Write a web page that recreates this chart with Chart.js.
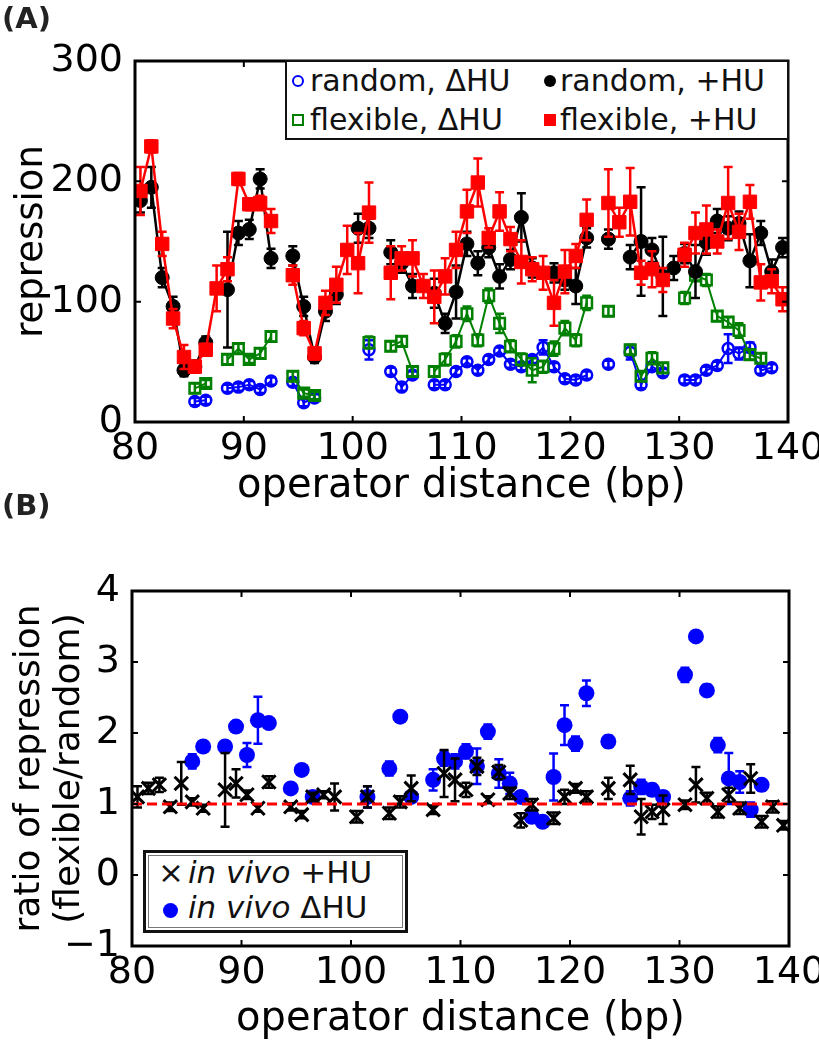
<!DOCTYPE html>
<html>
<head>
<meta charset="utf-8">
<title>Repression vs operator distance</title>
<script src="https://cdn.jsdelivr.net/npm/chart.js@4.4.1/dist/chart.umd.min.js"></script>
<style>
  html, body { margin: 0; background: #fff; }
  #page { position: relative; width: 819px; height: 1050px; overflow: hidden; font-family: 'DejaVu Sans', sans-serif; color: #111; }
  #chartA, #chartB { position: absolute; left: 0; }
  #chartA { top: 0; }
  #chartB { top: 500px; }
  .tag { position: absolute; left: 2px; font-size: 29px; font-weight: bold; color: #222; line-height: 1; }
  .legend { position: absolute; background: #fff; box-sizing: border-box; }
  .legend .txt { position: absolute; white-space: nowrap; line-height: 1; }
  .legend .mk { position: absolute; box-sizing: border-box; }
  #legA { left: 285px; top: 60px; width: 504px; height: 80px; border: 2px solid #111; font-size: 30px; }
  #legB { left: 143px; top: 850px; width: 265px; height: 83px; border: 3px solid #111; font-size: 31px;
          box-shadow: inset 0 0 0 2px #fff, inset 0 0 0 3px #777; }
</style>
</head>
<body>
<div id="page">
  <canvas id="chartA" width="819" height="520"></canvas>
  <canvas id="chartB" width="819" height="550"></canvas>
  <div class="tag" style="top:4px">(A)</div>
  <div class="tag" style="top:491px">(B)</div>
  <div class="legend" id="legA"></div>
  <div class="legend" id="legB"></div>
</div>
<script>
// operator distance (bp) of each construct
const distance = [
  80.5, 81.5, 82.5, 83.5, 84.5, 85.5, 86.5, 87.5, 88.5, 89.5,
  90.5, 91.5, 92.5, 93.5, 94.5, 95.5, 96.5, 97.5, 98.5, 99.5,
  100.5, 101.5, 102.5, 103.5, 104.5, 105.5, 106.5, 107.5, 108.5, 109.5,
  110.5, 111.5, 112.5, 113.5, 114.5, 115.5, 116.5, 117.5, 118.5, 119.5,
  120.5, 121.5, 122.5, 123.5, 124.5, 125.5, 126.5, 127.5, 128.5, 129.5,
  130.5, 131.5, 132.5, 133.5, 134.5, 135.5, 136.5, 137.5, 138.5, 139.5
];

// panel A: repression
const randomNoHU = [
  null, null, null, null, null, 17, 18, null, 28, 29,
  31, 27, 34, null, 33, 16, 20, null, null, null,
  null, 60, null, 42, 29, 39, null, 31, 31, 42,
  50, 43, 52, 59, 48, 46, 52, 62, 46, 36,
  35, 39, null, 48, null, 58, 31, 46, 41, null,
  35, 35, 43, 47, 61, 57, 62, 43, 45, null
];
const randomNoHUErr = [
  null, null, null, null, null, 3, 3, null, 3, 3,
  3, 3, 3, null, 3, 3, 3, null, null, null,
  null, 8, null, 3, 3, 3, null, 3, 3, 3,
  3, 3, 3, 3, 3, 3, 3, 6, 3, 3,
  3, 3, null, 3, null, 6, 3, 3, 3, null,
  3, 3, 3, 3, 12, 5, 4, 3, 3, null
];
const flexibleNoHU = [
  null, null, null, null, null, 28, 32, null, 52, 61,
  52, 57, 71, null, 38, 24, 22, null, null, null,
  null, 66, null, 63, 67, 42, null, 42, 52, 67,
  90, 68, 105, 82, 63, 52, 43, 46, 61, 78,
  68, 99, null, 92, null, 60, 38, 53, 45, null,
  103, 122, 118, 88, 83, 76, 56, 53, null, null
];
const flexibleNoHUErr = [
  null, null, null, null, null, 4, 3, null, 4, 4,
  3, 4, 4, null, 4, 3, 3, null, null, null,
  null, 5, null, 4, 4, 4, null, 4, 5, 5,
  6, 5, 6, 8, 5, 5, 10, 5, 6, 6,
  5, 6, null, 4, null, 4, 4, 5, 4, null,
  5, 5, 5, 4, 4, 6, 4, 4, null, null
];
const randomHU = [
  184, 195, 120, 96, 43, 46, 66, null, 110, 157,
  160, 202, 136, null, 138, 96, 54, 92, 106, null,
  161, 161, null, 141, 132, 113, null, 107, 82, 108,
  148, 132, 145, 121, 135, 170, 128, null, 124, 118,
  113, 153, null, 152, null, 137, 150, 143, 121, 128,
  140, 125, 149, 167, 161, 165, 134, 157, 125, 145
];
const randomHUErr = [
  10, 17, 8, 8, 5, 5, 5, null, 48, 10,
  8, 8, 8, null, 8, 8, 5, 8, 8, null,
  12, 8, null, 10, 8, 10, null, 12, 8, 22,
  10, 10, 8, 10, 8, 20, 8, null, 8, 8,
  15, 8, null, 8, null, 10, 45, 10, 33, 10,
  8, 22, 10, 10, 10, 10, 22, 10, 10, 8
];
const flexibleHU = [
  192, 229, 148, 86, 54, 46, 60, 111, 127, 202,
  181, 182, 167, null, 122, 78, 57, 99, 114, 143,
  132, 174, null, 124, 136, 136, 113, 104, 121, 143,
  175, 199, 153, 175, 152, 133, 127, 124, 99, 125,
  138, 168, null, 182, 166, 183, 124, 127, 118, null,
  139, 157, 160, 150, 182, 158, 183, 116, 117, 102
];
const flexibleHUErr = [
  20, 5, 10, 8, 10, 5, 5, 19, 10, 5,
  5, 6, 10, null, 8, 6, 5, 10, 15, 20,
  25, 25, null, 22, 10, 15, 10, 22, 15, 15,
  18, 20, 8, 16, 10, 18, 10, 14, 19, 18,
  10, 17, null, 28, 12, 28, 10, 15, 10, null,
  10, 17, 20, 10, 30, 15, 14, 15, 10, 10
];

// panel B: ratio flexible / random
const ratioHU = [
  1.10, 1.22, 1.27, 0.96, 1.29, 1.03, 0.94, null, 1.20, 1.29,
  1.13, 0.94, 1.31, null, 0.96, 0.85, 1.10, 1.13, 1.10, null,
  0.82, 1.10, null, 0.87, 1.03, 1.22, null, 0.92, 1.43, 1.34,
  1.20, 1.53, 1.06, 1.45, 1.15, 0.77, 0.99, null, 0.80, 1.10,
  1.22, 1.10, null, 1.22, null, 1.34, 0.82, 0.89, 0.92, null,
  0.99, 1.27, 1.08, 0.89, 1.13, 0.94, 1.36, 0.75, 0.96, 0.70
];
const ratioHUErr = [
  0.15, 0.08, 0.10, 0.06, 0.30, 0.05, 0.05, null, 0.52, 0.20,
  0.06, 0.05, 0.08, null, 0.05, 0.05, 0.06, 0.05, 0.19, null,
  0.08, 0.15, null, 0.08, 0.08, 0.18, null, 0.06, 0.33, 0.30,
  0.10, 0.12, 0.05, 0.10, 0.08, 0.10, 0.08, null, 0.08, 0.10,
  0.06, 0.08, null, 0.15, null, 0.20, 0.25, 0.10, 0.20, null,
  0.06, 0.25, 0.08, 0.08, 0.10, 0.08, 0.20, 0.08, 0.08, 0.06
];
const ratioNoHU = [
  null, null, null, null, null, 1.60, 1.81, null, 1.81, 2.09,
  1.69, 2.18, 2.14, null, 1.22, 1.48, 1.10, null, null, null,
  null, 1.10, null, 1.50, 2.23, 1.10, null, 1.34, 1.64, 1.60,
  1.74, 1.53, 2.02, 1.43, 1.29, 1.10, 0.82, 0.75, 1.38, 2.11,
  1.85, 2.56, null, 1.88, null, 1.08, 1.24, 1.20, 1.10, null,
  2.82, 3.36, 2.60, 1.83, 1.36, 1.31, 0.92, 1.27, null, null
];
const ratioNoHUErr = [
  null, null, null, null, null, 0.10, 0.05, null, 0.05, 0.05,
  0.17, 0.33, 0.05, null, 0.05, 0.05, 0.05, null, null, null,
  null, 0.15, null, 0.10, 0.06, 0.05, null, 0.15, 0.10, 0.10,
  0.10, 0.25, 0.10, 0.20, 0.15, 0.05, 0.05, 0.05, 0.33, 0.28,
  0.10, 0.18, null, 0.08, null, 0.10, 0.10, 0.08, 0.08, null,
  0.10, 0.05, 0.08, 0.10, 0.36, 0.15, 0.10, 0.08, null, null
];
const refLevel = 1;

// ticks
const xTicks = [80, 90, 100, 110, 120, 130, 140];
const yTicksA = [0, 100, 200, 300];
const yTicksB = [-1, 0, 1, 2, 3, 4];

const namesA = ['random, \u0394HU', 'flexible, \u0394HU', 'random, +HU', 'flexible, +HU'];

const BLUE = '#0000ff', GREEN = '#008000', BLACK = '#000000', RED = '#ff0000';

Chart.defaults.font.family = "'DejaVu Sans', sans-serif";
Chart.defaults.color = '#000';
Chart.defaults.animation = false;

const toPoints = vals => distance.map((d, i) => ({ x: d, y: vals[i] }));
const setTicks = list => scale => { scale.ticks = list.map(v => ({ value: v })); };
const minusLabel = v => (v < 0 ? '\u2212' + Math.abs(v) : String(v));
const noPad = s => { s.paddingLeft = 0; s.paddingRight = 0; s.paddingTop = 0; s.paddingBottom = 0; };

// vertical error bars, drawn just under each dataset
const errorBarPlugin = {
  id: 'errorBars',
  beforeDatasetDraw(chart, args) {
    const ds = chart.data.datasets[args.index];
    if (!ds.errors) return;
    const yScale = chart.scales.y;
    const ctx = chart.ctx;
    ctx.save();
    ctx.strokeStyle = ds.borderColor;
    ctx.lineWidth = 2.5;
    ctx.beginPath();
    args.meta.data.forEach((pt, i) => {
      const v = ds.data[i].y, e = ds.errors[i];
      if (v == null || e == null) return;
      const top = yScale.getPixelForValue(v + e);
      const bot = yScale.getPixelForValue(v - e);
      ctx.moveTo(pt.x, top); ctx.lineTo(pt.x, bot);
      ctx.moveTo(pt.x - 4.5, top); ctx.lineTo(pt.x + 4.5, top);
      ctx.moveTo(pt.x - 4.5, bot); ctx.lineTo(pt.x + 4.5, bot);
    });
    ctx.stroke();
    ctx.restore();
  }
};

// box around the plot, inward ticks on all sides, optional dashed reference line
const framePlugin = {
  id: 'frame',
  afterDatasetsDraw(chart, args, opts) {
    const { ctx, chartArea: a, scales } = chart;
    ctx.save();
    if (opts.refLine != null) {
      const py = scales.y.getPixelForValue(opts.refLine);
      ctx.strokeStyle = RED;
      ctx.lineWidth = 3;
      ctx.setLineDash([10, 5]);
      ctx.beginPath();
      ctx.moveTo(a.left, py); ctx.lineTo(a.right, py);
      ctx.stroke();
      ctx.setLineDash([]);
    }
    ctx.strokeStyle = '#000';
    ctx.lineWidth = 2;
    ctx.beginPath();
    scales.x.ticks.forEach(t => {
      const px = scales.x.getPixelForValue(t.value);
      if (px - a.left < 2 || a.right - px < 2) return;
      ctx.moveTo(px, a.bottom); ctx.lineTo(px, a.bottom - 6);
      ctx.moveTo(px, a.top); ctx.lineTo(px, a.top + 6);
    });
    scales.y.ticks.forEach(t => {
      const py = scales.y.getPixelForValue(t.value);
      if (py - a.top < 2 || a.bottom - py < 2) return;
      ctx.moveTo(a.left, py); ctx.lineTo(a.left + 6, py);
      ctx.moveTo(a.right, py); ctx.lineTo(a.right - 6, py);
    });
    ctx.stroke();
    ctx.lineWidth = 3;
    ctx.strokeRect(a.left, a.top, a.right - a.left, a.bottom - a.top);
    ctx.restore();
  }
};

const xScale = (height, titlePad) => ({
  type: 'linear', min: 80, max: 140,
  afterBuildTicks: setTicks(xTicks),
  ticks: { autoSkip: false, maxRotation: 0, padding: 4, font: { size: 38 } },
  grid: { display: false, drawTicks: false },
  border: { display: false },
  title: { display: true, text: 'operator distance (bp)', font: { size: 40, lineHeight: 1.2 }, padding: { top: 0, bottom: titlePad } },
  afterFit(s) { s.height = height; noPad(s); }
});

// Panel A
new Chart(document.getElementById('chartA'), {
  type: 'line',
  data: {
    datasets: [
      { label: namesA[0], data: toPoints(randomNoHU), errors: randomNoHUErr,
        borderColor: BLUE, borderWidth: 2, pointStyle: 'circle', pointRadius: 5.5,
        pointBorderWidth: 2.5, pointBorderColor: BLUE, pointBackgroundColor: 'rgba(0,0,0,0)', order: 3 },
      { label: namesA[1], data: toPoints(flexibleNoHU), errors: flexibleNoHUErr,
        borderColor: GREEN, borderWidth: 2, pointStyle: 'rect', pointRadius: 7.5,
        pointBorderWidth: 2.5, pointBorderColor: GREEN, pointBackgroundColor: 'rgba(0,0,0,0)', order: 2 },
      { label: namesA[2], data: toPoints(randomHU), errors: randomHUErr,
        borderColor: BLACK, borderWidth: 2.5, pointStyle: 'circle', pointRadius: 7,
        pointBorderWidth: 1, pointBorderColor: BLACK, pointBackgroundColor: BLACK, order: 1 },
      { label: namesA[3], data: toPoints(flexibleHU), errors: flexibleHUErr,
        borderColor: RED, borderWidth: 2.5, pointStyle: 'rect', pointRadius: 9.5,
        pointBorderWidth: 1, pointBorderColor: RED, pointBackgroundColor: RED, order: 0 }
    ]
  },
  options: {
    responsive: false,
    events: [],
    layout: { padding: { top: 61, right: 31, left: 0, bottom: 0 } },
    plugins: { legend: { display: false }, tooltip: { enabled: false }, frame: {} },
    scales: {
      x: xScale(98, 9),
      y: {
        min: 0, max: 300,
        afterBuildTicks: setTicks(yTicksA),
        ticks: { padding: 12, font: { size: 38 }, callback: minusLabel },
        grid: { display: false, drawTicks: false },
        border: { display: false },
        title: { display: true, text: 'repression', font: { size: 37, lineHeight: 1.2 }, padding: { top: 10, bottom: 0 } },
        afterFit(s) { s.width = 135; noPad(s); }
      }
    }
  },
  plugins: [errorBarPlugin, framePlugin]
});

// Panel B
new Chart(document.getElementById('chartB'), {
  type: 'scatter',
  data: {
    datasets: [
      { label: 'in vivo \u0394HU', data: toPoints(ratioNoHU), errors: ratioNoHUErr,
        borderColor: BLUE, backgroundColor: BLUE, pointStyle: 'circle', pointRadius: 8,
        pointBorderWidth: 0, order: 1 },
      { label: 'in vivo +HU', data: toPoints(ratioHU), errors: ratioHUErr,
        borderColor: BLACK, backgroundColor: BLACK, pointStyle: 'crossRot', pointRadius: 9.5,
        pointBorderWidth: 3, order: 0 }
    ]
  },
  options: {
    responsive: false,
    events: [],
    layout: { padding: { top: 91, right: 30, left: 0, bottom: 0 } },
    plugins: { legend: { display: false }, tooltip: { enabled: false }, frame: { refLine: refLevel } },
    scales: {
      x: xScale(104, 6),
      y: {
        min: -1, max: 4,
        afterBuildTicks: setTicks(yTicksB),
        ticks: { padding: 12, font: { size: 38 }, callback: minusLabel },
        grid: { display: false, drawTicks: false },
        border: { display: false },
        title: { display: true, text: ['ratio of repression', '(flexible/random)'],
                 font: { size: 36, lineHeight: 1.11 }, padding: { top: 10, bottom: 0 } },
        afterFit(s) { s.width = 132; noPad(s); }
      }
    }
  },
  plugins: [errorBarPlugin, framePlugin]
});

// Legends (HTML text)
const mk = (style) => {
  const d = document.createElement('div');
  d.className = 'mk';
  d.setAttribute('style', style);
  return d;
};
const txt = (html, left, top) => {
  const d = document.createElement('div');
  d.className = 'txt';
  d.innerHTML = html;
  d.style.left = left + 'px';
  d.style.top = top + 'px';
  return d;
};

const legA = document.getElementById('legA');
const colA = [{ m: 11, t: 23 }, { m: 263, t: 273 }];
const rowA = [{ m: 19, t: 4 }, { m: 58, t: 43 }];
const markA = [
  'width:12px;height:12px;border:2.5px solid ' + BLUE + ';border-radius:50%;',
  'width:12px;height:12px;border:2.5px solid ' + GREEN + ';',
  'width:12px;height:12px;background:' + BLACK + ';border-radius:50%;',
  'width:12px;height:12px;background:' + RED + ';'
];
namesA.forEach((name, i) => {
  const c = colA[i < 2 ? 0 : 1], r = rowA[i % 2];
  legA.appendChild(mk(markA[i] + 'left:' + (c.m - 6) + 'px;top:' + (r.m - 6) + 'px;'));
  legA.appendChild(txt(name, c.t, r.t));
});

const legB = document.getElementById('legB');
legB.appendChild(txt('\u00d7', 12, 4));
legB.appendChild(txt('<i>in vivo</i> +HU', 42, 4));
legB.appendChild(mk('width:15px;height:15px;background:' + BLUE + ';border-radius:50%;left:17px;top:50px;'));
legB.appendChild(txt('<i>in vivo</i> \u0394HU', 42, 39));
</script>
</body>
</html>
